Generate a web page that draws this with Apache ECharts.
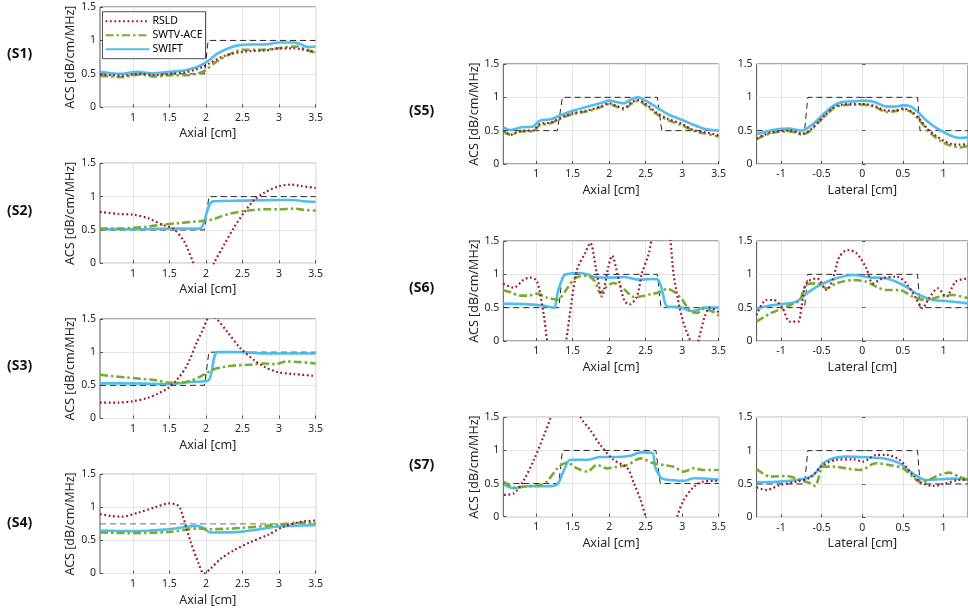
<!DOCTYPE html>
<html><head><meta charset="utf-8">
<script src="https://cdn.jsdelivr.net/npm/echarts@6/dist/echarts.min.js"></script>
<style>html,body{margin:0;padding:0;background:#fff}#c{width:968px;height:614px}</style>
</head><body><div id="c"></div><script>
// ---------- tick labels ----------
const axialTicks = [1, 1.5, 2, 2.5, 3, 3.5];
const lateralTicks = [-1, -0.5, 0, 0.5, 1];
const acsTicks = [0, 0.5, 1, 1.5];
const methodNames = ['RSLD', 'SWTV-ACE', 'SWIFT'];

// ---------- S1 ----------
const s1_gt_x = [0.55, 1.98, 2.03, 3.5];
const s1_gt_y = [0.5, 0.5, 1, 1];
const s1_rsld_x = [0.55,0.7,0.85,1.0,1.1,1.3,1.5,1.7,1.85,1.95,2.05,2.15,2.25,2.35,2.5,2.6,2.8,3.0,3.2,3.3,3.4,3.5];
const s1_rsld_y = [0.49,0.48,0.47,0.49,0.5,0.48,0.5,0.52,0.56,0.6,0.66,0.72,0.77,0.8,0.83,0.84,0.85,0.88,0.88,0.87,0.85,0.83];
const s1_swtv_x = [0.55,0.7,0.85,1.0,1.1,1.3,1.5,1.75,1.9,2.0,2.1,2.2,2.3,2.4,2.5,2.7,2.9,3.1,3.25,3.35,3.45,3.5];
const s1_swtv_y = [0.47,0.46,0.45,0.48,0.49,0.46,0.48,0.48,0.51,0.56,0.65,0.72,0.78,0.83,0.86,0.86,0.87,0.9,0.91,0.87,0.83,0.82];
const s1_swift_x = [0.55,0.7,0.85,1.05,1.25,1.5,1.7,1.85,1.95,2.05,2.15,2.3,2.45,2.6,2.8,3.0,3.2,3.3,3.4,3.5];
const s1_swift_y = [0.53,0.51,0.5,0.53,0.51,0.53,0.55,0.59,0.64,0.71,0.8,0.88,0.93,0.94,0.94,0.97,0.97,0.94,0.9,0.91];

// ---------- S2 ----------
const s2_gt_x = [0.55, 1.98, 2.04, 3.5];
const s2_gt_y = [0.5, 0.5, 1, 1];
const s2_rsld_x = [0.55,0.8,1.0,1.2,1.4,1.55,1.7,1.83,1.95,2.0,2.11,2.25,2.38,2.52,2.66,2.8,2.98,3.16,3.3,3.5];
const s2_rsld_y = [0.77,0.74,0.73,0.68,0.58,0.52,0.33,0.0,-0.3,-0.3,0.0,0.28,0.53,0.76,0.95,1.06,1.15,1.18,1.16,1.13];
const s2_swtv_x = [0.55,0.8,1.0,1.2,1.4,1.6,1.8,2.0,2.1,2.2,2.35,2.5,2.65,2.8,3.0,3.2,3.35,3.5];
const s2_swtv_y = [0.52,0.52,0.53,0.55,0.58,0.6,0.62,0.64,0.66,0.7,0.75,0.78,0.8,0.81,0.81,0.82,0.8,0.79];
const s2_swift_x = [0.55,1.0,1.5,1.9,1.95,2.1,2.5,3.0,3.2,3.35,3.5];
const s2_swift_y = [0.51,0.51,0.52,0.52,0.55,0.93,0.94,0.95,0.95,0.93,0.92];

// ---------- S3 ----------
const s3_gt_x = [0.55, 1.98, 2.04, 3.5];
const s3_gt_y = [0.5, 0.5, 1, 1];
const s3_rsld_x = [0.55,0.8,1.0,1.2,1.35,1.47,1.6,1.74,1.88,1.95,2.02,2.08,2.15,2.29,2.47,2.66,2.8,2.98,3.2,3.5];
const s3_rsld_y = [0.24,0.24,0.26,0.31,0.38,0.45,0.58,0.8,1.16,1.32,1.5,1.58,1.5,1.31,1.06,0.88,0.78,0.7,0.67,0.64];
const s3_swtv_x = [0.55,0.7,0.9,1.1,1.3,1.5,1.65,1.8,1.9,2.0,2.1,2.25,2.4,2.6,2.8,2.95,3.1,3.3,3.5];
const s3_swtv_y = [0.66,0.64,0.62,0.6,0.58,0.54,0.54,0.57,0.62,0.68,0.74,0.78,0.8,0.81,0.83,0.82,0.86,0.85,0.83];
const s3_swift_x = [0.55,1.0,1.5,1.8,2.03,2.16,2.5,2.8,3.0,3.5];
const s3_swift_y = [0.53,0.53,0.52,0.55,0.57,1.0,1.0,0.98,0.98,0.98];

// ---------- S4 ----------
const s4_gt_x = [0.55, 3.5];
const s4_gt_y = [0.75, 0.75];
const s4_rsld_x = [0.55,0.7,0.85,1.1,1.3,1.5,1.6,1.65,1.79,1.9,1.97,2.05,2.2,2.38,2.6,2.84,3.05,3.29,3.5];
const s4_rsld_y = [0.9,0.87,0.86,0.93,1.0,1.06,1.04,0.98,0.48,0.15,0.0,0.06,0.22,0.35,0.47,0.58,0.7,0.78,0.8];
const s4_swtv_x = [0.55,1.0,1.5,1.9,2.05,2.5,3.0,3.3,3.5];
const s4_swtv_y = [0.62,0.61,0.63,0.68,0.67,0.69,0.74,0.77,0.76];
const s4_swift_x = [0.55,1.0,1.5,1.7,1.88,1.96,2.06,2.47,2.8,2.98,3.5];
const s4_swift_y = [0.65,0.64,0.67,0.7,0.72,0.69,0.62,0.63,0.68,0.71,0.73];

// ---------- S5 axial ----------
const s5a_gt_x = [0.55, 1.29, 1.36, 2.66, 2.72, 3.5];
const s5a_gt_y = [0.5, 0.5, 1, 1, 0.5, 0.5];
const s5a_x = [0.55,0.65,0.8,0.95,1.05,1.2,1.35,1.5,1.7,1.9,2.0,2.1,2.2,2.3,2.4,2.5,2.65,2.8,3.0,3.15,3.3,3.5];
const s5a_rsld_y = [0.5,0.44,0.5,0.5,0.6,0.62,0.7,0.76,0.8,0.87,0.91,0.87,0.84,0.92,0.96,0.9,0.77,0.68,0.6,0.51,0.48,0.43];
const s5a_swtv_y = [0.49,0.44,0.49,0.49,0.58,0.61,0.69,0.75,0.79,0.86,0.9,0.86,0.82,0.9,0.95,0.88,0.75,0.66,0.58,0.5,0.46,0.41];
const s5a_swift_y = [0.55,0.51,0.55,0.56,0.65,0.67,0.74,0.8,0.86,0.92,0.95,0.93,0.91,0.97,1.0,0.95,0.85,0.75,0.66,0.59,0.53,0.5];

// ---------- S5 lateral ----------
const lat_gt_x = [-1.3, -0.71, -0.67, 0.68, 0.71, 1.3];
const lat_gt_y = [0.5, 0.5, 1, 1, 0.5, 0.5];
const s5l_x = [-1.3,-1.2,-1.1,-0.9,-0.8,-0.75,-0.65,-0.55,-0.45,-0.35,-0.25,-0.1,0,0.15,0.3,0.4,0.5,0.6,0.7,0.8,0.9,1.0,1.1,1.2,1.3];
const s5l_rsld_y = [0.38,0.44,0.48,0.5,0.48,0.45,0.5,0.62,0.74,0.85,0.89,0.9,0.9,0.87,0.8,0.8,0.83,0.79,0.68,0.53,0.43,0.35,0.3,0.29,0.3];
const s5l_swtv_y = [0.37,0.43,0.47,0.49,0.47,0.44,0.49,0.61,0.73,0.84,0.88,0.89,0.89,0.86,0.78,0.79,0.82,0.78,0.66,0.51,0.4,0.32,0.27,0.25,0.27];
const s5l_swift_y = [0.45,0.48,0.51,0.53,0.51,0.5,0.56,0.66,0.78,0.88,0.93,0.94,0.95,0.93,0.86,0.86,0.88,0.86,0.76,0.64,0.55,0.48,0.42,0.39,0.4];

// ---------- S6 axial ----------
const s6a_gt_x = [0.55, 1.31, 1.36, 2.66, 2.71, 3.5];
const s6a_gt_y = [0.5, 0.5, 1, 1, 0.5, 0.5];
const s6a_rsld_x = [0.55,0.69,0.83,0.92,1.01,1.1,1.15,1.2,1.3,1.41,1.47,1.56,1.67,1.74,1.83,1.9,1.99,2.04,2.12,2.21,2.28,2.38,2.45,2.54,2.6,2.7,2.8,2.84,2.88,2.97,3.04,3.11,3.16,3.22,3.31,3.38,3.5];
const s6a_rsld_y = [0.86,0.8,0.92,0.95,0.9,0.42,0.0,-0.4,-0.6,0.0,0.47,1.07,1.32,1.47,1.02,0.67,1.12,1.28,0.97,0.6,0.55,0.67,1.02,1.3,1.6,1.8,1.75,1.5,1.02,0.47,0.2,0.0,-0.2,0.0,0.37,0.5,0.43];
const s6a_swtv_x = [0.55,0.65,0.78,0.9,1.0,1.15,1.29,1.4,1.52,1.6,1.7,1.8,1.88,1.95,2.06,2.2,2.34,2.45,2.56,2.7,2.79,2.9,3.0,3.11,3.2,3.29,3.4,3.5];
const s6a_swtv_y = [0.76,0.73,0.68,0.68,0.71,0.65,0.62,0.75,0.93,0.97,0.98,0.9,0.72,0.8,0.87,0.78,0.66,0.67,0.7,0.73,0.78,0.73,0.62,0.45,0.42,0.48,0.45,0.38];
const s6a_swift_x = [0.55,0.9,1.1,1.24,1.3,1.38,1.45,1.55,1.7,1.8,2.0,2.2,2.4,2.6,2.67,2.72,2.79,2.9,3.0,3.11,3.2,3.29,3.5];
const s6a_swift_y = [0.56,0.55,0.53,0.5,0.75,0.98,1.01,1.02,1.0,0.96,0.95,0.96,0.92,0.93,0.92,0.78,0.52,0.51,0.5,0.45,0.46,0.5,0.5];

// ---------- S6 lateral ----------
const s6l_rsld_x = [-1.3,-1.18,-1.09,-0.99,-0.89,-0.79,-0.75,-0.69,-0.56,-0.44,-0.36,-0.28,-0.18,-0.07,0.05,0.13,0.25,0.42,0.54,0.66,0.74,0.82,0.93,1.03,1.15,1.3];
const s6l_rsld_y = [0.39,0.615,0.615,0.515,0.29,0.29,0.49,0.865,0.94,0.765,0.94,1.265,1.365,1.315,1.09,0.865,0.94,0.965,0.865,0.64,0.49,0.64,0.79,0.665,0.89,0.94];
const s6l_swtv_x = [-1.3,-1.13,-0.93,-0.77,-0.69,-0.56,-0.44,-0.32,-0.11,0.05,0.17,0.29,0.46,0.62,0.78,0.95,1.11,1.3];
const s6l_swtv_y = [0.29,0.415,0.515,0.615,0.84,0.865,0.79,0.865,0.915,0.89,0.815,0.765,0.765,0.665,0.615,0.665,0.69,0.64];
const s6l_swift_x = [-1.3,-1.15,-1.01,-0.81,-0.69,-0.52,-0.32,-0.11,0.09,0.29,0.5,0.7,0.87,1.03,1.3];
const s6l_swift_y = [0.49,0.53,0.55,0.59,0.71,0.84,0.94,0.99,0.955,0.94,0.84,0.69,0.615,0.6,0.565];

// ---------- S7 axial ----------
const s7a_gt_x = [0.55, 1.31, 1.36, 2.64, 2.7, 3.5];
const s7a_gt_y = [0.5, 0.5, 1, 1, 0.5, 0.5];
const s7a_rsld_x = [0.56,0.69,0.83,0.97,1.1,1.2,1.3,1.4,1.5,1.61,1.74,1.88,2.06,2.25,2.34,2.43,2.5,2.6,2.72,2.85,2.93,3.02,3.16,3.29,3.5];
const s7a_rsld_y = [0.33,0.35,0.55,0.86,1.21,1.5,1.9,2.1,1.9,1.5,1.31,1.08,0.86,0.73,0.5,0.25,0.0,-0.35,-0.5,-0.3,0.0,0.25,0.45,0.53,0.54];
const s7a_swtv_x = [0.56,0.69,0.88,1.06,1.15,1.29,1.42,1.56,1.7,1.83,1.97,2.11,2.25,2.43,2.61,2.75,2.88,3.02,3.16,3.29,3.5];
const s7a_swtv_y = [0.53,0.44,0.46,0.48,0.53,0.73,0.815,0.73,0.68,0.78,0.73,0.755,0.78,0.88,0.805,0.78,0.755,0.68,0.73,0.705,0.705];
const s7a_swift_x = [0.56,0.69,0.88,1.15,1.29,1.38,1.47,1.7,1.88,2.11,2.29,2.43,2.59,2.63,2.72,2.88,3.02,3.16,3.5];
const s7a_swift_y = [0.48,0.43,0.46,0.46,0.49,0.7,0.86,0.86,0.9,0.9,0.92,0.97,0.96,0.75,0.58,0.55,0.54,0.58,0.56];

// ---------- S7 lateral ----------
const s7l_rsld_x = [-1.3,-1.18,-1.01,-0.81,-0.64,-0.48,-0.32,-0.11,0.01,0.17,0.29,0.46,0.62,0.74,0.87,1.03,1.19,1.3];
const s7l_rsld_y = [0.45,0.41,0.485,0.535,0.6,0.785,0.86,0.87,0.835,0.935,0.935,0.86,0.635,0.51,0.47,0.51,0.56,0.56];
const s7l_swtv_x = [-1.3,-1.13,-0.93,-0.77,-0.64,-0.58,-0.48,-0.36,-0.2,-0.03,0.17,0.33,0.5,0.62,0.72,0.82,0.95,1.07,1.19,1.3];
const s7l_swtv_y = [0.725,0.61,0.62,0.56,0.51,0.47,0.76,0.76,0.735,0.71,0.81,0.785,0.735,0.61,0.52,0.56,0.635,0.67,0.61,0.56];
const s7l_swift_x = [-1.3,-1.01,-0.73,-0.6,-0.48,-0.36,-0.2,0.05,0.25,0.46,0.62,0.78,0.95,1.11,1.3];
const s7l_swift_y = [0.525,0.535,0.575,0.635,0.81,0.885,0.91,0.9,0.885,0.81,0.66,0.56,0.57,0.58,0.57];

// ---------- layout (positions only) ----------
const FONT = '"Noto Sans", "Open Sans", sans-serif';
const TXT = '#262626';
const panels = [
  {label:'(S1)', lx:22, ly:56, left:100, top:7, w:215.6, h:100.3, kind:'axial',
   gt:[s1_gt_x,s1_gt_y], rsld:[s1_rsld_x,s1_rsld_y], swtv:[s1_swtv_x,s1_swtv_y], swift:[s1_swift_x,s1_swift_y]},
  {label:'(S2)', lx:22, ly:213, left:100, top:163.3, w:215.6, h:100, kind:'axial',
   gt:[s2_gt_x,s2_gt_y], rsld:[s2_rsld_x,s2_rsld_y], swtv:[s2_swtv_x,s2_swtv_y], swift:[s2_swift_x,s2_swift_y]},
  {label:'(S3)', lx:22, ly:368, left:100, top:319, w:215.6, h:99.5, kind:'axial',
   gt:[s3_gt_x,s3_gt_y], rsld:[s3_rsld_x,s3_rsld_y], swtv:[s3_swtv_x,s3_swtv_y], swift:[s3_swift_x,s3_swift_y]},
  {label:'(S4)', lx:22, ly:525, left:100, top:474.3, w:215.6, h:99.2, kind:'axial',
   gt:[s4_gt_x,s4_gt_y], rsld:[s4_rsld_x,s4_rsld_y], swtv:[s4_swtv_x,s4_swtv_y], swift:[s4_swift_x,s4_swift_y], gtColor:'#707070'},
  {label:'(S5)', lx:424, ly:113, left:503.3, top:64, w:215.4, h:100, kind:'axial',
   gt:[s5a_gt_x,s5a_gt_y], rsld:[s5a_x,s5a_rsld_y], swtv:[s5a_x,s5a_swtv_y], swift:[s5a_x,s5a_swift_y]},
  {left:756.6, top:64, w:212.4, h:100, kind:'lateral',
   gt:[lat_gt_x,lat_gt_y], rsld:[s5l_x,s5l_rsld_y], swtv:[s5l_x,s5l_swtv_y], swift:[s5l_x,s5l_swift_y]},
  {label:'(S6)', lx:424, ly:290, left:503.3, top:241, w:215.4, h:100, kind:'axial',
   gt:[s6a_gt_x,s6a_gt_y], rsld:[s6a_rsld_x,s6a_rsld_y], swtv:[s6a_swtv_x,s6a_swtv_y], swift:[s6a_swift_x,s6a_swift_y]},
  {left:756.6, top:241, w:212.4, h:100, kind:'lateral',
   gt:[lat_gt_x,lat_gt_y], rsld:[s6l_rsld_x,s6l_rsld_y], swtv:[s6l_swtv_x,s6l_swtv_y], swift:[s6l_swift_x,s6l_swift_y]},
  {label:'(S7)', lx:424, ly:467, left:503.3, top:417.3, w:215.4, h:99.4, kind:'axial',
   gt:[s7a_gt_x,s7a_gt_y], rsld:[s7a_rsld_x,s7a_rsld_y], swtv:[s7a_swtv_x,s7a_swtv_y], swift:[s7a_swift_x,s7a_swift_y]},
  {left:756.6, top:417.3, w:212.4, h:100, kind:'lateral',
   gt:[lat_gt_x,lat_gt_y], rsld:[s7l_rsld_x,s7l_rsld_y], swtv:[s7l_swtv_x,s7l_swtv_y], swift:[s7l_swift_x,s7l_swift_y]}
];

const styles = {
  RSLD: {color:'#A2142F', width:2.2, type:[1.8,2.6], z:5},
  'SWTV-ACE': {color:'#77AC30', width:2.6, type:[8,3,2.5,3], z:4},
  SWIFT: {color:'#4DBEEE', width:2.6, type:'solid', z:3}
};

const zip = (xs, ys) => xs.map((x, i) => [x, ys[i]]);

const grid = [], xAxis = [], yAxis = [], series = [], graphic = [];
panels.forEach((p, gi) => {
  const axial = p.kind === 'axial';
  grid.push({left:p.left, top:p.top, width:p.w, height:p.h, show:true,
    borderColor:TXT, borderWidth:0.8, backgroundColor:'transparent', containLabel:false});
  const ticks = axial ? axialTicks : lateralTicks;
  xAxis.push({type:'value', gridIndex:gi, min: axial ? 0.55 : -1.3, max: axial ? 3.5 : 1.3,
    name: axial ? 'Axial [cm]' : 'Lateral [cm]', nameLocation:'middle', nameGap:20,
    nameTextStyle:{fontSize:12.5, color:TXT, fontFamily:FONT},
    axisLine:{show:false},
    axisTick:{show:true, inside:true, length:3, customValues:ticks, lineStyle:{color:TXT, width:0.8}},
    axisLabel:{customValues:ticks, fontSize:10.5, color:TXT, margin:5, fontFamily:FONT, formatter:v => String(v)},
    splitLine:{show:true, lineStyle:{color:'#e4e4e4', width:1}}});
  yAxis.push({type:'value', gridIndex:gi, min:acsTicks[0], max:acsTicks[acsTicks.length - 1], interval:0.5,
    name: axial ? 'ACS [dB/cm/MHz]' : '', nameLocation:'middle', nameGap:21, nameRotate:90,
    nameTextStyle:{fontSize:12.5, color:TXT, fontFamily:FONT},
    axisLine:{show:false},
    axisTick:{show:true, inside:true, length:3, lineStyle:{color:TXT, width:0.8}},
    axisLabel:{fontSize:10.5, color:TXT, margin:4, fontFamily:FONT, formatter:v => String(v)},
    splitLine:{show:true, lineStyle:{color:'#e4e4e4', width:1}}});
  series.push({type:'line', name:'Ground truth', xAxisIndex:gi, yAxisIndex:gi, data:zip(p.gt[0], p.gt[1]),
    symbol:'none', smooth:false, clip:true, silent:true, z:2,
    lineStyle:{color:p.gtColor || '#262626', width:1, type:[6,4]}, itemStyle:{color:'#262626'}});
  [['SWIFT', p.swift], ['SWTV-ACE', p.swtv], ['RSLD', p.rsld]].forEach(([nm, d]) => {
    const s = styles[nm];
    series.push({type:'line', name:nm, xAxisIndex:gi, yAxisIndex:gi, data:zip(d[0], d[1]),
      symbol:'none', smooth:0.3, clip:true, silent:true, z:s.z,
      lineStyle:{color:s.color, width:s.width, type:s.type}, itemStyle:{color:s.color}});
  });
  if (p.label) {
    graphic.push({type:'text', left:p.lx - 15, top:p.ly - 9,
      style:{text:p.label, font:'bold 14px "Noto Sans", sans-serif', fill:'#111'}});
  }
});

const chart = echarts.init(document.getElementById('c'), null, {renderer:'canvas'});
chart.setOption({
  animation:false,
  textStyle:{fontFamily:FONT},
  grid, xAxis, yAxis, series, graphic,
  legend:{data:methodNames, orient:'vertical', left:102.5, top:11.7,
    backgroundColor:'#fff', borderColor:TXT, borderWidth:0.8, borderRadius:0,
    padding:[4,3,4,2], itemGap:3, itemWidth:44, itemHeight:10,
    itemStyle:{opacity:0},
    textStyle:{fontSize:10.5, color:'#000', fontFamily:FONT, padding:[0,0,0,-2]}}
});
</script></body></html>
